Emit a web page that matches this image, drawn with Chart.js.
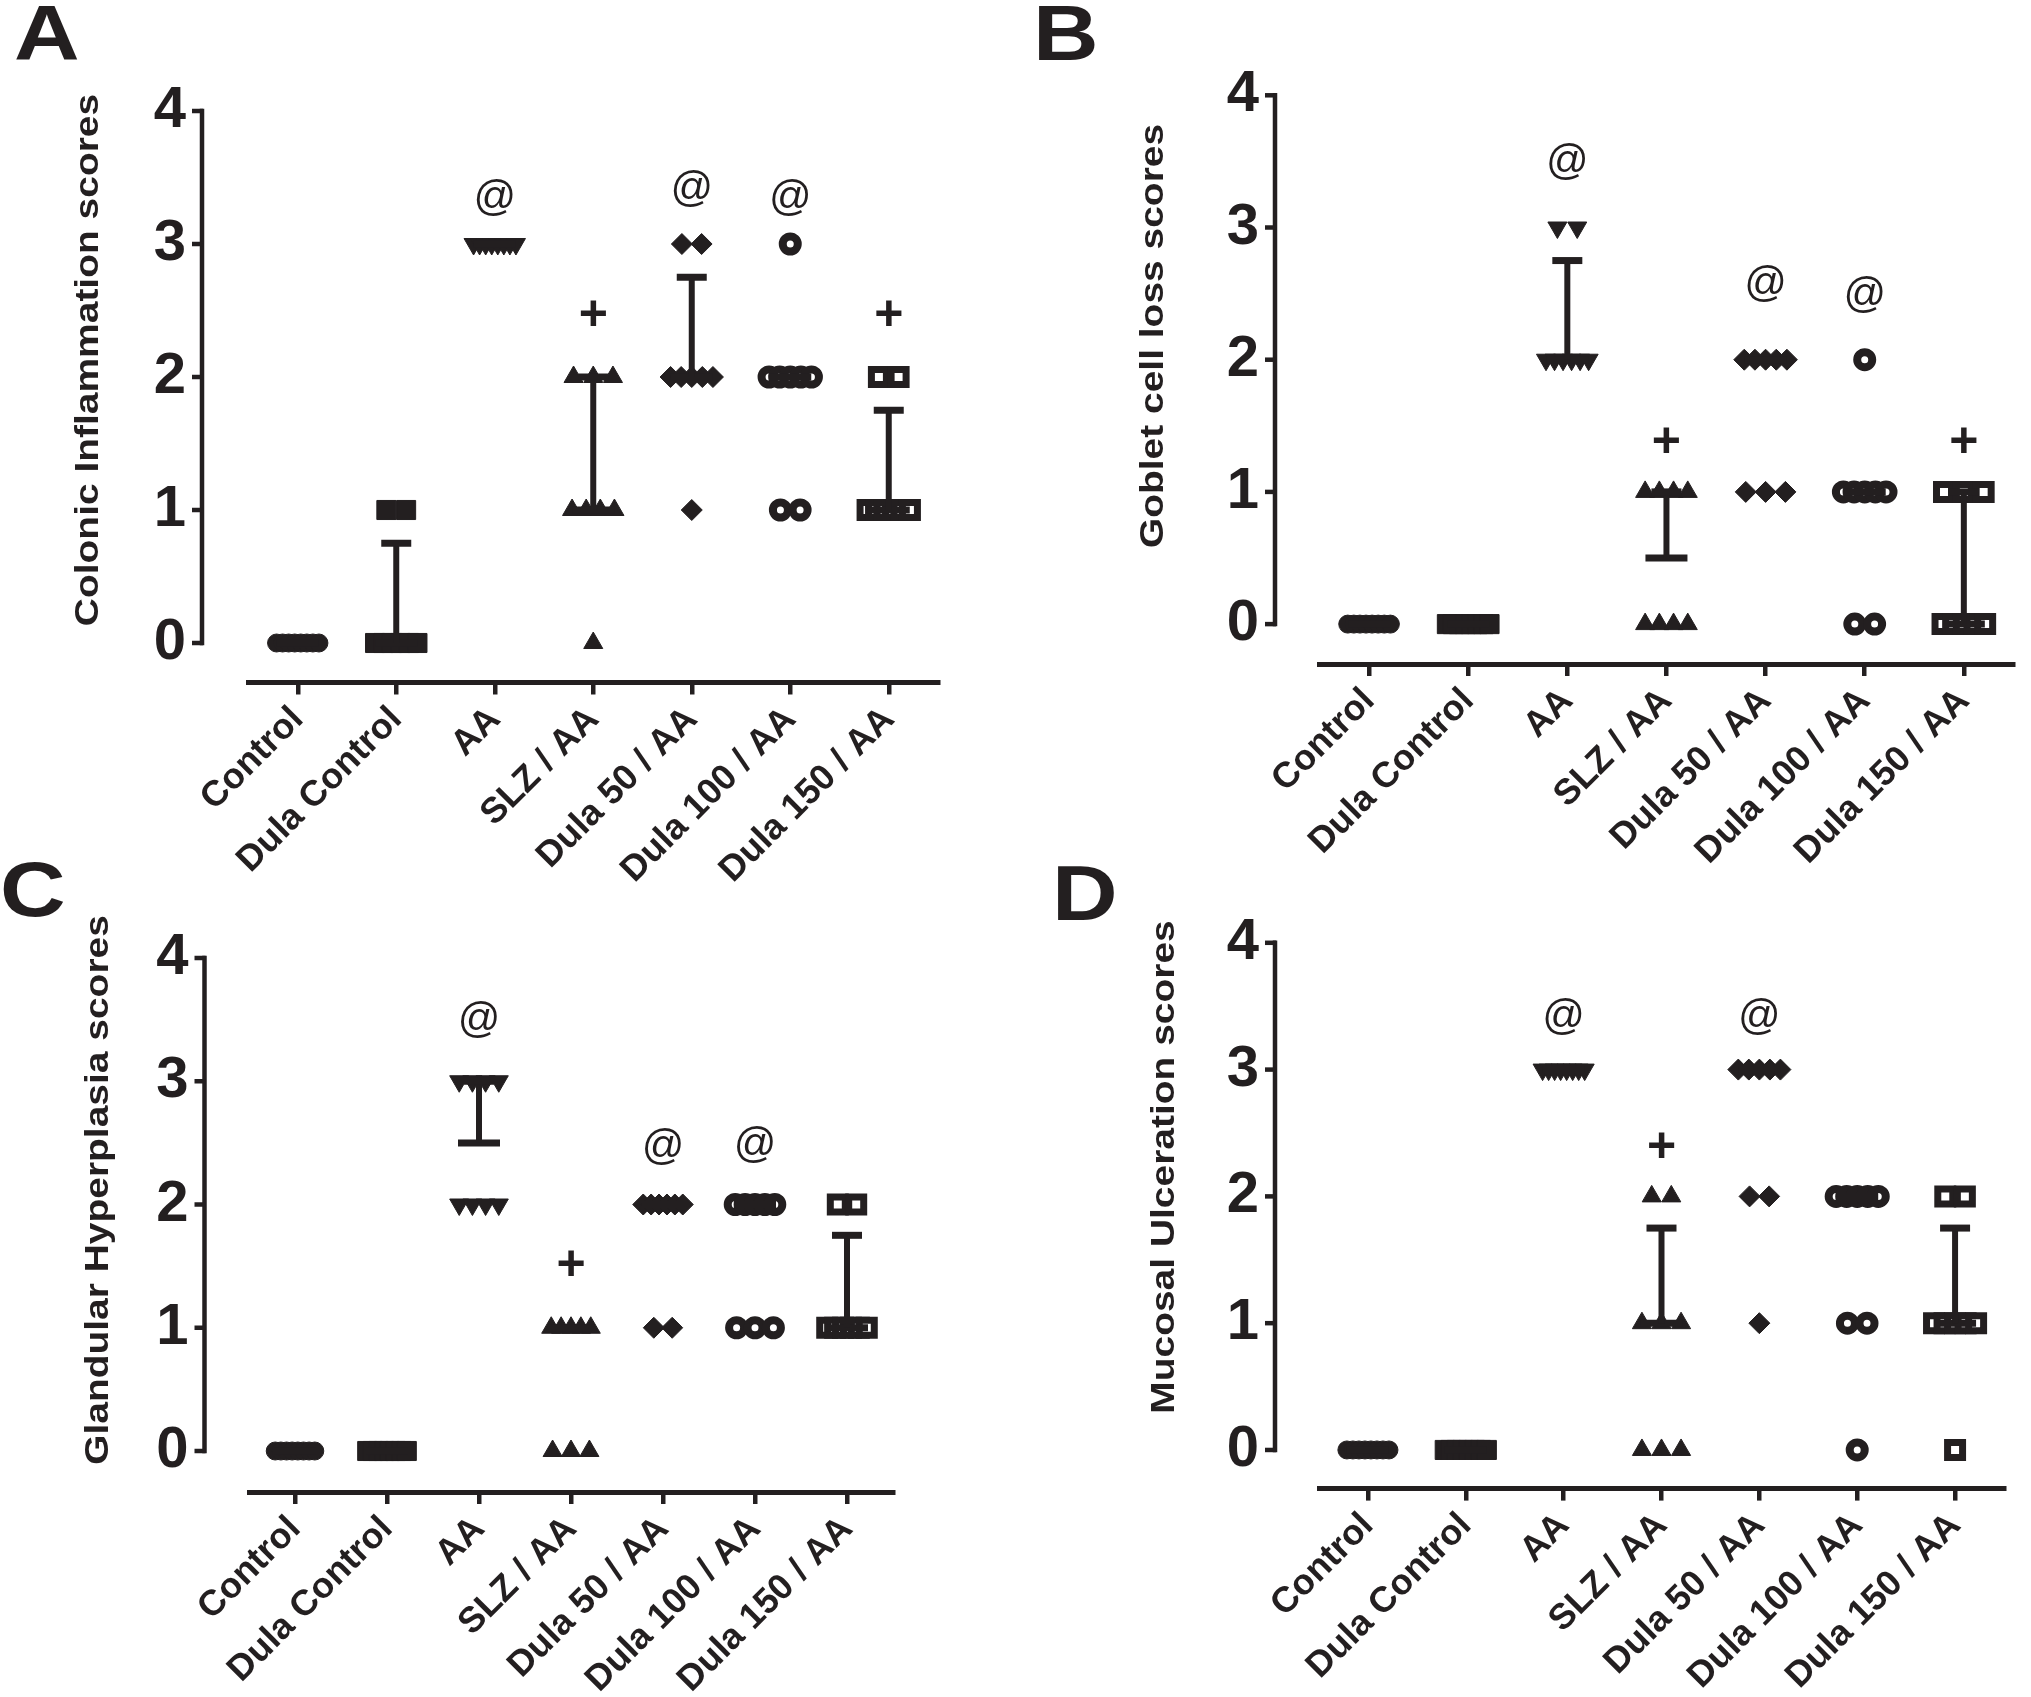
<!DOCTYPE html>
<html>
<head>
<meta charset="utf-8">
<title>Colitis histology scores</title>
<script src="https://cdn.jsdelivr.net/npm/chart.js@4.4.1/dist/chart.umd.min.js"></script>
<style>
  body { margin: 0; background: #fff; }
  #figure { position: relative; width: 2031px; height: 1697px; overflow: hidden; background: #fff; }
  canvas { position: absolute; }
</style>
</head>
<body>
<div id="figure">
  <canvas id="panelA"></canvas>
  <canvas id="panelB"></canvas>
  <canvas id="panelC"></canvas>
  <canvas id="panelD"></canvas>
</div>
<script>
'use strict';

// ---- data (one score per animal, n = 8 per group) ----
const groups = ['Control', 'Dula Control', 'AA', 'SLZ / AA', 'Dula 50 / AA', 'Dula 100 / AA', 'Dula 150 / AA'];
const yTicks = [0, 1, 2, 3, 4];

const inflammationScores = [
  [0, 0, 0, 0, 0, 0, 0, 0],
  [0, 0, 0, 0, 0, 0, 1, 1],
  [3, 3, 3, 3, 3, 3, 3, 3],
  [0, 1, 1, 1, 1, 2, 2, 2],
  [1, 2, 2, 2, 2, 2, 3, 3],
  [1, 1, 2, 2, 2, 2, 2, 3],
  [1, 1, 1, 1, 1, 1, 2, 2]
];
const gobletScores = [
  [0, 0, 0, 0, 0, 0, 0, 0],
  [0, 0, 0, 0, 0, 0, 0, 0],
  [2, 2, 2, 2, 2, 2, 3, 3],
  [0, 0, 0, 0, 1, 1, 1, 1],
  [1, 1, 1, 2, 2, 2, 2, 2],
  [0, 0, 1, 1, 1, 1, 1, 2],
  [0, 0, 0, 0, 0, 1, 1, 1]
];
const hyperplasiaScores = [
  [0, 0, 0, 0, 0, 0, 0, 0],
  [0, 0, 0, 0, 0, 0, 0, 0],
  [2, 2, 2, 2, 3, 3, 3, 3],
  [0, 0, 0, 1, 1, 1, 1, 1],
  [1, 1, 2, 2, 2, 2, 2, 2],
  [1, 1, 1, 2, 2, 2, 2, 2],
  [1, 1, 1, 1, 1, 1, 2, 2]
];
const ulcerationScores = [
  [0, 0, 0, 0, 0, 0, 0, 0],
  [0, 0, 0, 0, 0, 0, 0, 0],
  [3, 3, 3, 3, 3, 3, 3, 3],
  [0, 0, 0, 1, 1, 1, 2, 2],
  [1, 2, 2, 3, 3, 3, 3, 3],
  [0, 1, 1, 2, 2, 2, 2, 2],
  [0, 1, 1, 1, 1, 1, 2, 2]
];

// significance marks: [group index, y value]
const inflammationAt = [[2, 3.34], [4, 3.41], [5, 3.34]];
const inflammationPlus = [[3, 2.46], [6, 2.46]];
const gobletAt = [[2, 3.49], [4, 2.57], [5, 2.49]];
const gobletPlus = [[3, 1.37], [6, 1.37]];
const hyperplasiaAt = [[2, 3.49], [4, 2.46], [5, 2.48]];
const hyperplasiaPlus = [[3, 1.5]];
const ulcerationAt = [[2, 3.41], [4, 3.41]];
const ulcerationPlus = [[3, 2.38]];

// ---- styles ----
const ink = '#231f20';
const sans = "'Liberation Sans', Arial, Helvetica, sans-serif";

const markers = [
  { style: 'circle', r: 9, rot: 0, fill: ink, bw: 1 },
  { style: 'rect', r: 13.5, rot: 0, fill: ink, bw: 1 },
  { style: 'triangle', r: 11, rot: 180, fill: ink, bw: 1 },
  { style: 'triangle', r: 11, rot: 0, fill: ink, bw: 1 },
  { style: 'rectRot', r: 10.5, rot: 0, fill: ink, bw: 1 },
  { style: 'circle', r: 7.5, rot: 0, fill: '#fff', bw: 8 },
  { style: 'rect', r: 10.6, rot: 0, fill: '#fff', bw: 7 }
];

// page positions of each panel (page pixels); top canvases run on under the
// bottom ones so their slanted labels are not cut (canvases are transparent)
const boxA = { left: 0, top: 0, w: 1015, h: 940, yAxisX: 202, chartLeft: 248.5, chartRight: 938, y4: 111, y0: 643, xAxisY: 682.5, titleX: 98, titleY: 360, letterX: 14, letterY: 60 };
const boxB = { left: 1015, top: 0, w: 1016, h: 940, yAxisX: 1275, chartLeft: 1319.5, chartRight: 2026.5, y4: 79.5, y0: 623, xAxisY: 664, titleX: 1163, titleY: 336, letterX: 1033, letterY: 60 };
const boxC = { left: 0, top: 848, w: 1015, h: 849, yAxisX: 204.5, chartLeft: 249, chartRight: 893, y4: 958, y0: 1451, xAxisY: 1492, titleX: 108, titleY: 1190, letterX: 0, letterY: 916 };
const boxD = { left: 1015, top: 848, w: 1016, h: 849, yAxisX: 1275, chartLeft: 1319, chartRight: 2004, y4: 915, y0: 1448, xAxisY: 1488.6, titleX: 1174, titleY: 1167, letterX: 1052, letterY: 920 };

// tied scores sit side by side, like a GraphPad scatter column
function spreadPoints(scores, g) {
  let counts = {};
  for (let i = 0; i < scores.length; i++) {
    counts[scores[i]] = (counts[scores[i]] || 0) + 1;
  }
  let points = [];
  for (let key in counts) {
    let n = counts[key];
    let step = n > 1 ? Math.min(0.2, 0.43 / (n - 1)) : 0;
    for (let k = 0; k < n; k++) {
      points.push({ x: g + (k - (n - 1) / 2) * step, y: Number(key) });
    }
  }
  return points;
}

// GraphPad style percentile (position p*(n+1))
function percentile(scores, p) {
  let s = scores.slice().sort(function(a, b) { return a - b; });
  let pos = p * (s.length + 1);
  if (pos <= 1) return s[0];
  if (pos >= s.length) return s[s.length - 1];
  let lo = Math.floor(pos);
  let frac = pos - lo;
  return s[lo - 1] + frac * (s[lo] - s[lo - 1]);
}

function line(ctx, x1, y1, x2, y2, width) {
  ctx.lineWidth = width;
  ctx.beginPath();
  ctx.moveTo(x1, y1);
  ctx.lineTo(x2, y2);
  ctx.stroke();
}

function makePanel(canvasId, box, scores, atMarks, plusMarks, title, letter) {
  const canvas = document.getElementById(canvasId);
  canvas.width = box.w;
  canvas.height = box.h;
  canvas.style.left = box.left + 'px';
  canvas.style.top = box.top + 'px';
  canvas.style.width = box.w + 'px';
  canvas.style.height = box.h + 'px';

  const unit = (box.y0 - box.y4) / 4;
  const yMin = -(box.xAxisY - box.y0) / unit;

  let datasets = [];
  for (let g = 0; g < groups.length; g++) {
    let m = markers[g];
    datasets.push({
      label: groups[g],
      data: spreadPoints(scores[g], g),
      pointStyle: m.style,
      pointRadius: m.r,
      pointHoverRadius: m.r,
      pointRotation: m.rot,
      pointBackgroundColor: m.fill,
      pointBorderColor: ink,
      pointBorderWidth: m.bw,
      showLine: false
    });
  }

  const overlay = {
    id: 'overlay',
    afterDatasetsDraw: function(chart) {
      const ctx = chart.ctx;
      const xs = chart.scales.x;
      const ys = chart.scales.y;
      ctx.save();
      ctx.strokeStyle = ink;
      ctx.lineCap = 'butt';
      for (let g = 0; g < groups.length; g++) {
        let med = percentile(scores[g], 0.5);
        let q3 = percentile(scores[g], 0.75);
        let px = xs.getPixelForValue(g);
        let pm = ys.getPixelForValue(med);
        line(ctx, px - 21, pm, px + 21, pm, 7);
        if (q3 > med) {
          let pq = ys.getPixelForValue(q3);
          line(ctx, px, pm, px, pq, 6);
          line(ctx, px - 15, pq, px + 15, pq, 7);
        }
      }
      ctx.restore();
    },
    afterDraw: function(chart) {
      const ctx = chart.ctx;
      const xs = chart.scales.x;
      const ys = chart.scales.y;
      ctx.save();
      ctx.strokeStyle = ink;
      ctx.fillStyle = ink;

      // y axis spans 0..4 only, set apart from the x axis
      let ax = box.yAxisX - box.left;
      let top = ys.getPixelForValue(4);
      let bottom = ys.getPixelForValue(0);
      line(ctx, ax, top - 2.25, ax, bottom + 2.25, 4.5);
      for (let i = 0; i < yTicks.length; i++) {
        let py = ys.getPixelForValue(yTicks[i]);
        line(ctx, ax - 10, py, ax + 1, py, 4.5);
      }

      // axis title
      ctx.save();
      ctx.translate(box.titleX - box.left, box.titleY - box.top);
      ctx.rotate(-Math.PI / 2);
      ctx.scale(1.18, 1);
      ctx.font = 'bold 33px ' + sans;
      ctx.textAlign = 'center';
      ctx.textBaseline = 'alphabetic';
      ctx.fillText(title, 0, 0);
      ctx.restore();

      // panel letter
      ctx.save();
      ctx.translate(box.letterX - box.left, box.letterY - box.top);
      ctx.scale(1.18, 1);
      ctx.font = 'bold 77px ' + sans;
      ctx.textAlign = 'left';
      ctx.textBaseline = 'alphabetic';
      ctx.fillText(letter, 0, 0);
      ctx.restore();

      // significance marks
      ctx.textAlign = 'center';
      ctx.textBaseline = 'middle';
      ctx.font = '42px ' + sans;
      for (let i = 0; i < atMarks.length; i++) {
        ctx.fillText('@', xs.getPixelForValue(atMarks[i][0]), ys.getPixelForValue(atMarks[i][1]));
      }
      ctx.font = 'bold 50px ' + sans;
      for (let i = 0; i < plusMarks.length; i++) {
        ctx.fillText('+', xs.getPixelForValue(plusMarks[i][0]), ys.getPixelForValue(plusMarks[i][1]));
      }
      ctx.restore();
    }
  };

  return new Chart(canvas, {
    type: 'scatter',
    data: { datasets: datasets },
    options: {
      responsive: false,
      animation: false,
      devicePixelRatio: 1,
      events: [],
      layout: {
        padding: { left: 0, bottom: 0, top: box.y4 - box.top, right: box.left + box.w - box.chartRight }
      },
      plugins: {
        legend: { display: false },
        tooltip: { enabled: false }
      },
      scales: {
        x: {
          type: 'linear',
          min: -0.5,
          max: 6.5,
          afterBuildTicks: function(scale) {
            scale.ticks = groups.map(function(name, i) { return { value: i }; });
          },
          afterFit: function(scale) {
            scale.height = box.top + box.h - box.xAxisY;
          },
          border: { display: true, color: ink, width: 5 },
          grid: {
            display: true,
            drawOnChartArea: false,
            drawTicks: true,
            tickLength: 12,
            tickWidth: 4.5,
            tickColor: ink,
            color: ink,
            lineWidth: 4.5
          },
          ticks: {
            autoSkip: false,
            maxRotation: 45,
            minRotation: 45,
            padding: 4,
            color: ink,
            font: { family: sans, size: 36, weight: 'bold' },
            callback: function(v) { return groups[v]; }
          }
        },
        y: {
          min: yMin,
          max: 4,
          afterBuildTicks: function(scale) {
            scale.ticks = yTicks.map(function(v) { return { value: v }; });
          },
          afterFit: function(scale) {
            scale.width = box.chartLeft - box.left;
          },
          border: { display: false },
          grid: { display: false, drawTicks: false },
          ticks: {
            padding: box.chartLeft - (box.yAxisX - 16),
            color: ink,
            font: { family: sans, size: 58, weight: 'bold' },
            callback: function(v) { return String(v); }
          }
        }
      }
    },
    plugins: [overlay]
  });
}

makePanel('panelA', boxA, inflammationScores, inflammationAt, inflammationPlus, 'Colonic Inflammation scores', 'A');
makePanel('panelB', boxB, gobletScores, gobletAt, gobletPlus, 'Goblet cell loss scores', 'B');
makePanel('panelC', boxC, hyperplasiaScores, hyperplasiaAt, hyperplasiaPlus, 'Glandular Hyperplasia scores', 'C');
makePanel('panelD', boxD, ulcerationScores, ulcerationAt, ulcerationPlus, 'Mucosal Ulceration scores', 'D');
</script>
</body>
</html>
